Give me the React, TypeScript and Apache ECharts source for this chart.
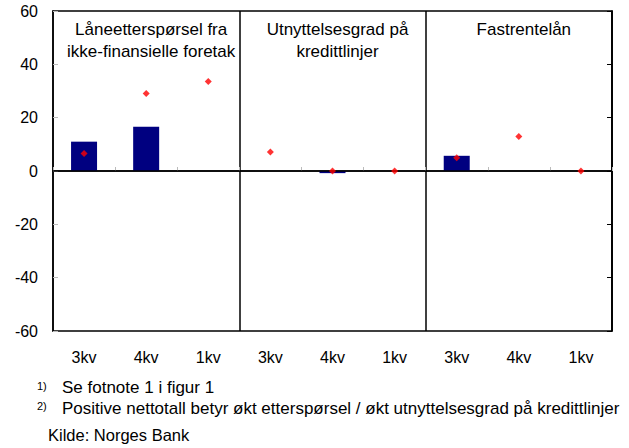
import React, { useEffect, useRef } from "react";
import * as echarts from "echarts";

const categories = ["3kv", "4kv", "1kv", "3kv", "4kv", "1kv", "3kv", "4kv", "1kv"];
const barValues: (number | null)[] = [11, 16.6, null, null, -0.8, null, 5.7, null, null];
const dotValues: number[] = [6.6, 29.1, 33.6, 7.1, 0, 0, 5, 12.9, 0];
const panelTitles = [
  "Låneetterspørsel fra\nikke-finansielle foretak",
  "Utnyttelsesgrad på\nkredittlinjer",
  "Fastrentelån",
];
const footnotes = [
  { sup: "1)", text: "Se fotnote 1 i figur 1" },
  { sup: "2)", text: "Positive nettotall betyr økt etterspørsel / økt utnyttelsesgrad på kredittlinjer" },
];
const source = "Kilde: Norges Bank";

const FONT = "'Liberation Sans', Arial, sans-serif";

export default function App() {
  const ref = useRef<HTMLDivElement>(null);
  useEffect(() => {
    if (!ref.current) return;
    const chart = echarts.init(ref.current, undefined, { renderer: "svg" });
    const gridLeft = 53;
    const gridRight = 17;
    const W = 629;
    const plotW = W - gridLeft - gridRight;
    const panelW = plotW / 3;
    chart.setOption({
      animation: false,
      textStyle: { fontFamily: FONT },
      grid: {
        left: gridLeft,
        right: gridRight,
        top: 11,
        bottom: 117,
        show: true,
        borderColor: "#000",
        borderWidth: 1.5,
        backgroundColor: "transparent",
      },
      title: panelTitles.map((t, i) => ({
        text: t,
        left: gridLeft + panelW * (i + 0.5),
        top: 13,
        textAlign: "center",
        textStyle: {
          fontFamily: FONT,
          fontSize: 17,
          fontWeight: "normal",
          color: "#000",
          lineHeight: 22,
        },
      })),
      xAxis: {
        type: "category",
        data: categories,
        boundaryGap: true,
        axisLine: { show: true, lineStyle: { color: "#000", width: 1.5 } },
        axisTick: { show: true, inside: true, length: 4, lineStyle: { color: "#bbb" } },
        axisLabel: { color: "#000", fontSize: 16, margin: 18, fontFamily: FONT },
        splitLine: {
          show: true,
          interval: (i: number) => i === 3 || i === 6,
          lineStyle: { color: "#000", width: 1.5 },
        },
      },
      yAxis: [
        {
          type: "value",
          min: -60,
          max: 60,
          interval: 20,
          axisLine: { show: true, lineStyle: { color: "#000", width: 1.5 } },
          axisTick: { show: true, inside: true, length: 5, lineStyle: { color: "#bbb" } },
          axisLabel: { color: "#000", fontSize: 16, margin: 15, fontFamily: FONT },
          splitLine: { show: false },
        },
        {
          type: "value",
          position: "right",
          min: -60,
          max: 60,
          interval: 20,
          axisLine: { show: true, lineStyle: { color: "#000", width: 1.5 } },
          axisTick: { show: true, inside: true, length: 5, lineStyle: { color: "#000" } },
          axisLabel: { show: false },
          splitLine: { show: false },
        },
      ],
      series: [
        {
          type: "bar",
          data: barValues,
          barWidth: 26,
          itemStyle: { color: "#000080" },
          markLine: {
            silent: true,
            symbol: "none",
            label: { show: false },
            lineStyle: { color: "#000", width: 1.5, type: "solid" },
            data: [{ yAxis: 0 }],
          },
        },
        {
          type: "scatter",
          data: dotValues,
          symbol: "diamond",
          symbolSize: 7,
          itemStyle: { color: "#ff0000" },
          z: 5,
        },
      ],
      graphic: [
        ...footnotes.flatMap((f, i) => [
          {
            type: "text",
            left: 37,
            top: 380 + i * 20,
            style: { text: f.sup, font: `11px ${FONT}`, fill: "#000" },
          },
          {
            type: "text",
            left: 62,
            top: 379 + i * 21,
            style: { text: f.text, font: `17px ${FONT}`, fill: "#000" },
          },
        ]),
        {
          type: "text",
          left: 48,
          top: 426,
          style: { text: source, font: `16.5px ${FONT}`, fill: "#000" },
        },
      ],
    });
    return () => chart.dispose();
  }, []);
  return (
    <div
      ref={ref}
      style={{ position: "fixed", left: 0, top: 0, width: 629, height: 448, background: "#fff" }}
    />
  );
}
